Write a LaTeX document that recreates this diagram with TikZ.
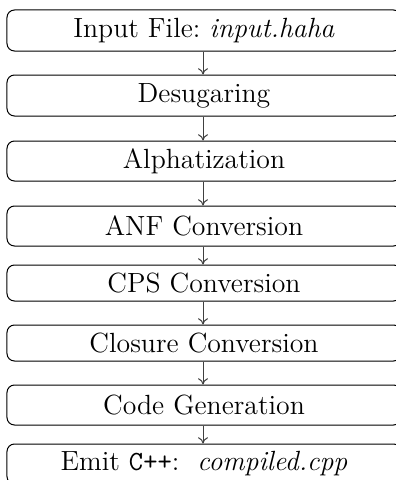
\documentclass[tikz,border=0pt]{standalone}
\usetikzlibrary{arrows.meta}
\begin{document}
\begin{tikzpicture}[x=0.4pt,y=-0.4pt,
  stage/.style={draw, rounded corners=3pt, minimum width=157.6pt, inner sep=0pt, font=\fontsize{11.1pt}{13pt}\selectfont},
  flow/.style={-{To[length=2.5pt,width=4pt]}, draw=black!75, line width=0.4pt}]
\useasboundingbox (0,0) rectangle (395,480);
\node[stage, minimum height=16.4pt] (b1) at (204,30.5) {Input File:\ \emph{input.haha}};
\node[stage, minimum height=16.4pt] (b2) at (204,95.5) {Desugaring};
\node[stage, minimum height=16pt] (b3) at (204,161) {Alphatization};
\node[stage, minimum height=16pt] (b4) at (204,226) {ANF Conversion};
\node[stage, minimum height=14.4pt] (b5) at (204,283) {CPS Conversion};
\node[stage, minimum height=14.4pt] (b6) at (204,343) {Closure Conversion};
\node[stage, minimum height=16pt] (b7) at (204,405) {Code Generation};
\node[stage, minimum height=16pt] (b8) at (204,464) {Emit \texttt{C++}:\ \ \emph{compiled.cpp}};
\draw[flow] (b1.south -| 203,0) -- (b2.north -| 203,0);
\draw[flow] (b2.south -| 203,0) -- (b3.north -| 203,0);
\draw[flow] (b3.south -| 203,0) -- (b4.north -| 203,0);
\draw[flow] (b4.south -| 203,0) -- (b5.north -| 203,0);
\draw[flow] (b5.south -| 203,0) -- (b6.north -| 203,0);
\draw[flow] (b6.south -| 203,0) -- (b7.north -| 203,0);
\draw[flow] (b7.south -| 203,0) -- (b8.north -| 203,0);
\end{tikzpicture}
\end{document}
